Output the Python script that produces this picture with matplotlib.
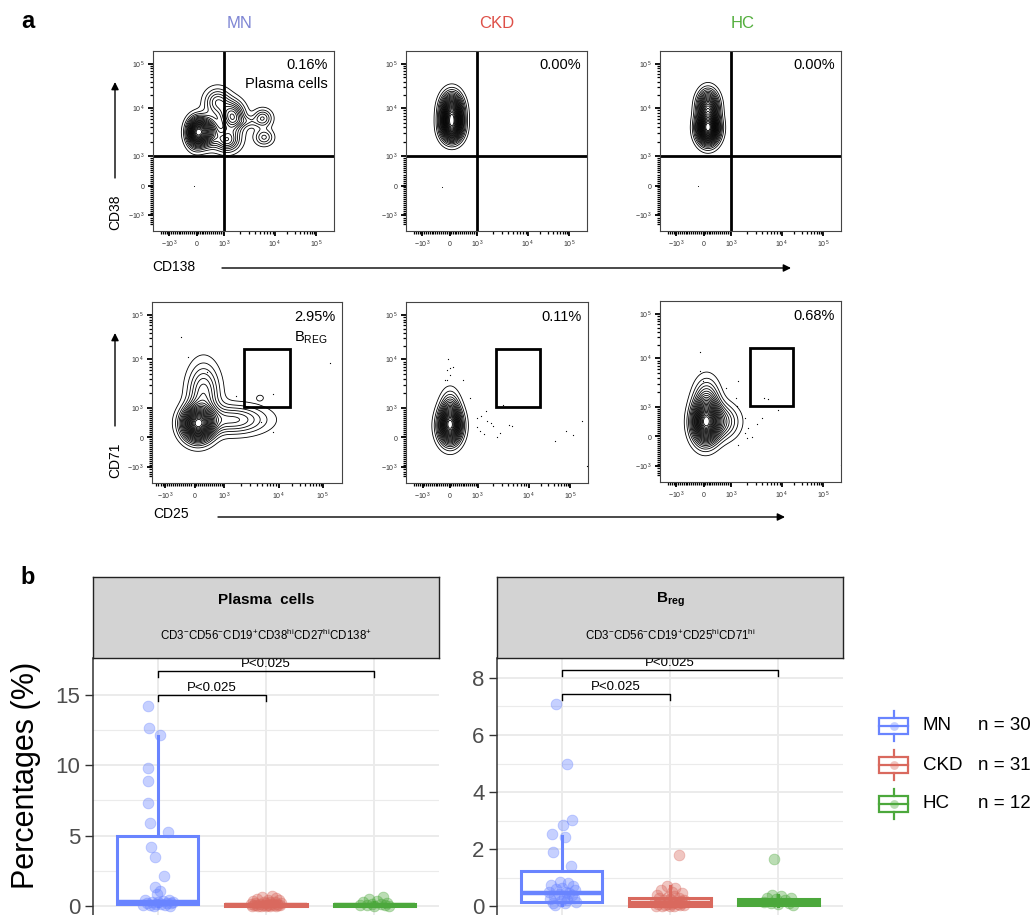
import numpy as np
import matplotlib
matplotlib.use('Agg')
import matplotlib.pyplot as plt
from matplotlib.patches import Rectangle

plt.rcParams['font.family'] = ['Liberation Sans', 'DejaVu Sans']
plt.rcParams['mathtext.fontset'] = 'custom'
plt.rcParams['mathtext.rm'] = 'Liberation Sans'
plt.rcParams['mathtext.it'] = 'Liberation Sans:italic'
plt.rcParams['mathtext.bf'] = 'Liberation Sans:bold'

# ------------------------------------------------------------------ data
groups = ['MN', 'CKD', 'HC']
group_n = [30, 31, 12]
group_colors = ['#6984FF', '#D9695E', '#4CA83C']
title_colors = ['#7F86D4', '#DE5048', '#52AE3C']

# panel a (flow cytometry, display units of a biexponential scale)
flow_tick_labels = [r'$-10^{\,3}$', r'$0$', r'$10^{\,3}$', r'$10^{\,4}$', r'$10^{\,5}$']
flow_xtick_pos = [-1.0, 0.0, 1.0, 2.85, 4.35]
flow_ytick_pos = [-1.0, 0.0, 1.0, 2.65, 4.15]
row1_pct = ['0.16%', '0.00%', '0.00%']
row2_pct = ['2.95%', '0.11%', '0.68%']
row1_gate = [1.0, 1.0]                   # CD138 / CD38 quadrant at 10^3
row2_gate = [1.68, 1.02, 3.25, 3.0]      # CD25 x0, CD71 y0, x1, y1

# density components: (centre x, centre y, sd x, sd y, weight)
blobs_cd38 = [
    [(0.25, 1.85, 0.3, 0.3, 1.0), (-0.05, 1.8, 0.2, 0.3, 0.7),
     (0.75, 2.85, 0.3, 0.3, 0.35), (1.3, 2.35, 0.28, 0.33, 0.6),
     (1.1, 1.55, 0.3, 0.25, 0.45), (1.85, 2.2, 0.25, 0.12, 0.12),
     (2.4, 2.3, 0.22, 0.2, 0.3), (2.45, 1.65, 0.22, 0.18, 0.25)],
    [(0.07, 2.5, 0.25, 0.39, 1.0), (0.07, 1.95, 0.25, 0.3, 0.7)],
    [(0.15, 1.95, 0.25, 0.33, 1.0), (0.15, 2.7, 0.24, 0.35, 0.6)],
]
blobs_cd71 = [
    [(0.1, 0.45, 0.33, 0.36, 1.0), (0.3, 1.5, 0.35, 0.65, 0.3),
     (1.3, 0.6, 0.75, 0.32, 0.28), (2.22, 1.35, 0.1, 0.08, 0.06)],
    [(0.0, 0.38, 0.26, 0.38, 1.0), (0.0, 0.9, 0.22, 0.42, 0.3)],
    [(0.05, 0.45, 0.3, 0.44, 1.0), (0.1, 1.2, 0.3, 0.5, 0.3), (0.6, 0.5, 0.42, 0.38, 0.3)],
]
events_cd38_x = [[-0.1], [-0.3], [-0.2]]
events_cd38_y = [[0.0], [-0.05], [0.0]]
events_cd71_x = [
    [-0.45, -0.22, 0.41, 1.40, 2.67, 2.26, 2.65, 4.6],
    [-0.07, -0.10, 0.0, 0.11, 0.0, -0.1, -0.19, 0.45, 0.72, 0.96, 1.11, 1.30, 1.35, 1.50,
     1.56, 0.98, 1.08, 1.23, 1.69, 1.81, 2.14, 2.23, 3.80, 4.22, 4.46, 4.80, 1.90, 4.95],
    [-0.14, -0.14, -0.02, 0.81, 1.26, 1.17, 1.20, 1.50, 1.62, 1.50, 1.75, 1.56, 1.26,
     1.93, 2.11, 2.20, 2.35, 2.70, 5.0],
]
events_cd71_y = [
    [3.40, 2.74, 2.22, 1.42, 1.47, 0.53, 0.19, 2.54],
    [2.68, 2.30, 2.37, 2.39, 2.11, 1.94, 1.96, 1.94, 1.35, 0.66, 0.71, 0.91, 0.55, 0.48,
     0.40, 0.34, 0.23, 0.12, 0.0, 0.14, 0.43, 0.38, -0.11, 0.23, 0.09, 0.57, 1.11, -0.96],
    [2.86, 2.23, 1.89, 1.64, 1.89, 1.30, 1.02, 0.62, 0.28, 0.10, -0.01, -0.07, -0.29,
     0.41, 0.64, 1.32, 1.28, 0.90, -0.98],
]

# panel b (percentages)
pc_vals = [
    [14.25, 12.65, 12.15, 9.8, 8.9, 7.35, 5.9, 5.25, 4.2, 3.5, 2.1, 1.35, 1.05, 0.85, 0.45,
     0.40, 0.35, 0.30, 0.28, 0.25, 0.22, 0.20, 0.18, 0.15, 0.12, 0.10, 0.08, 0.05, 0.03, 0.02],
    [0.72, 0.65, 0.60, 0.50, 0.45, 0.40, 0.35, 0.30, 0.28, 0.25, 0.22, 0.20, 0.18, 0.16, 0.15,
     0.13, 0.12, 0.10, 0.09, 0.08, 0.07, 0.06, 0.05, 0.05, 0.04, 0.03, 0.03, 0.02, 0.02, 0.01, 0.01],
    [0.65, 0.50, 0.35, 0.25, 0.20, 0.15, 0.12, 0.10, 0.08, 0.05, 0.03, 0.02],
]
pc_jitter = [
    [-0.09, -0.08, 0.02, -0.09, -0.09, -0.09, -0.07, 0.09, -0.06, -0.03, 0.06, -0.03, 0.02, -0.01,
     0.10, -0.12, 0.05, -0.05, 0.14, 0.00, -0.10, 0.08, 0.12, -0.02, 0.03, -0.14, 0.07, -0.07, 0.11, -0.04],
    [0.06, -0.04, 0.09, -0.08, 0.02, 0.12, -0.12, 0.04, -0.02, 0.08, -0.1, 0.0, 0.14, -0.06, 0.1,
     -0.14, 0.05, -0.09, 0.03, 0.11, -0.03, 0.07, -0.11, 0.01, 0.13, -0.05, 0.09, -0.13, 0.04, -0.07, 0.0],
    [0.08, -0.05, 0.03, -0.1, 0.12, -0.02, 0.06, -0.13, 0.1, -0.07, 0.0, 0.14],
]
pc_q1 = [0.15, 0.02, 0.03]
pc_med = [0.30, 0.06, 0.08]
pc_q3 = [5.0, 0.15, 0.15]
pc_lo = [0.02, 0.0, 0.0]
pc_hi = [12.1, 0.35, 0.3]

br_vals = [
    [7.08, 5.0, 3.02, 2.85, 2.52, 2.41, 1.88, 1.40, 0.85, 0.80, 0.75, 0.70, 0.65, 0.60, 0.55,
     0.50, 0.48, 0.45, 0.42, 0.40, 0.35, 0.30, 0.28, 0.25, 0.20, 0.18, 0.15, 0.12, 0.10, 0.05],
    [1.78, 0.72, 0.65, 0.55, 0.50, 0.45, 0.40, 0.35, 0.32, 0.30, 0.28, 0.25, 0.22, 0.20, 0.18,
     0.16, 0.15, 0.13, 0.12, 0.10, 0.09, 0.08, 0.07, 0.06, 0.05, 0.04, 0.03, 0.02, 0.02, 0.01, 0.00],
    [1.66, 0.40, 0.35, 0.30, 0.28, 0.25, 0.20, 0.15, 0.12, 0.10, 0.06, 0.03],
]
br_jitter = [
    [-0.055, 0.05, 0.09, 0.01, -0.09, 0.025, -0.08, 0.08, -0.02, 0.06, -0.1, 0.1, 0.0, -0.05, 0.12,
     0.04, -0.12, 0.07, -0.03, 0.09, -0.07, 0.02, 0.11, -0.11, 0.05, -0.01, 0.13, -0.08, 0.03, -0.06],
    [0.08, -0.03, 0.05, -0.08, 0.02, 0.11, -0.12, 0.04, -0.02, 0.08, -0.1, 0.0, 0.13, -0.06, 0.1,
     -0.14, 0.05, -0.09, 0.03, 0.11, -0.03, 0.07, -0.11, 0.01, 0.13, -0.05, 0.09, -0.13, 0.04, -0.07, 0.0],
    [-0.04, -0.06, 0.03, -0.1, 0.12, -0.02, 0.06, -0.13, 0.1, -0.07, 0.0, 0.14],
]
br_q1 = [0.15, 0.02, 0.03]
br_med = [0.47, 0.12, 0.12]
br_q3 = [1.23, 0.28, 0.25]
br_lo = [0.05, 0.0, 0.0]
br_hi = [2.45, 0.7, 0.4]

pc_ticks = [0, 5, 10, 15]
br_ticks = [0, 2, 4, 6, 8]
pval_text = 'P<0.025'
pc_brackets = [(1, 3, 16.7), (1, 2, 15.0)]
br_brackets = [(1, 3, 8.28), (1, 2, 7.44)]

# ------------------------------------------------------------------ figure
W, H = 1031, 915
fig = plt.figure(figsize=(W / 100, H / 100), dpi=100)


def px_axes(l, t, r, b, **kw):
    return fig.add_axes([l / W, 1 - b / H, (r - l) / W, (b - t) / H], **kw)


def minor_positions(tpos):
    out = list(np.arange(-1.3, 1.0, 0.07))
    for k in range(2, 10):
        out.append(tpos[2] + np.log10(k) * (tpos[3] - tpos[2]))
        out.append(tpos[3] + np.log10(k) * (tpos[4] - tpos[3]))
    return out


def flow_axes(box, xlim, ylim):
    ax = px_axes(*box)
    ax.set_xlim(*xlim)
    ax.set_ylim(*ylim)
    ax.set_xticks(flow_xtick_pos)
    ax.set_xticklabels(flow_tick_labels)
    ax.set_yticks(flow_ytick_pos)
    ax.set_yticklabels(flow_tick_labels)
    ax.set_xticks(minor_positions(flow_xtick_pos), minor=True)
    ax.set_yticks(minor_positions(flow_ytick_pos), minor=True)
    ax.tick_params(which='major', length=3.5, width=1.3, labelsize=5, pad=2,
                   colors='black', labelcolor='#333333')
    ax.tick_params(which='minor', length=2, width=0.9, colors='black')
    for s in ax.spines.values():
        s.set_linewidth(0.8)
        s.set_color('#444444')
    return ax


def draw_density(ax, blobs, nlev):
    xl = ax.get_xlim()
    yl = ax.get_ylim()
    X, Y = np.meshgrid(np.linspace(xl[0], xl[1], 450), np.linspace(yl[0], yl[1], 450))
    Z = np.zeros_like(X)
    for cx, cy, sx, sy, w in blobs:
        Z += w * np.exp(-0.5 * (((X - cx) / sx) ** 2 + ((Y - cy) / sy) ** 2))
    lev = Z.max() * np.linspace(0.035, 0.95, nlev)
    ax.contour(X, Y, Z, levels=lev, colors='black', linewidths=0.6)


row1_boxes = [(153, 51, 334, 231), (406, 51, 587, 231), (660, 51, 841, 231)]
row2_boxes = [(152, 302, 342, 483), (406, 302, 588, 483), (660, 301, 841, 482)]
row1_xlims = [(-1.6, 5.0), (-1.6, 5.0), (-1.6, 5.0)]
row2_xlims = [(-1.45, 5.0), (-1.6, 5.0), (-1.6, 5.0)]
ylim_flow = (-1.55, 4.6)
row1_nlev = [22, 26, 26]
row2_nlev = [24, 22, 24]

for i in range(3):
    ax = flow_axes(row1_boxes[i], row1_xlims[i], ylim_flow)
    draw_density(ax, blobs_cd38[i], row1_nlev[i])
    ax.scatter(events_cd38_x[i], events_cd38_y[i], s=0.6, color='black', lw=0)
    ax.axvline(row1_gate[0], color='black', lw=2)
    ax.axhline(row1_gate[1], color='black', lw=2)
    ax.text(0.965, 0.96, row1_pct[i], transform=ax.transAxes, ha='right', va='top', fontsize=10.5)
    if i == 0:
        ax.text(0.965, 0.855, 'Plasma cells', transform=ax.transAxes, ha='right', va='top', fontsize=10.5)

for i in range(3):
    ax = flow_axes(row2_boxes[i], row2_xlims[i], ylim_flow)
    draw_density(ax, blobs_cd71[i], row2_nlev[i])
    ax.scatter(events_cd71_x[i], events_cd71_y[i], s=0.8, color='black', lw=0)
    x0, y0, x1, y1 = row2_gate
    ax.add_patch(Rectangle((x0, y0), x1 - x0, y1 - y0, fill=False, lw=2, ec='black'))
    ax.text(0.965, 0.955, row2_pct[i], transform=ax.transAxes, ha='right', va='top', fontsize=10.5)
    if i == 0:
        ax.text(0.925, 0.85, r'B$_{\mathregular{REG}}$', transform=ax.transAxes, ha='right',
                va='top', fontsize=10.5)

# ------------------------------------------------------------------ panel b
def box_panel(box, vals, jit, q1, med, q3, lo, hi, ylim, ticks, minors, brackets, br_dy):
    ax = px_axes(*box)
    ax.set_xlim(0.4, 3.6)
    ax.set_ylim(*ylim)
    ax.set_yticks(ticks)
    ax.set_yticklabels([str(t) for t in ticks])
    ax.set_yticks(minors, minor=True)
    ax.set_xticks([1, 2, 3])
    ax.tick_params(axis='x', length=0, labelbottom=False)
    ax.tick_params(axis='y', which='major', length=6, width=1, color='#333333',
                   labelsize=16, labelcolor='#4D4D4D', pad=3)
    ax.tick_params(axis='y', which='minor', length=0)
    ax.grid(True, which='major', color='#EBEBEB', lw=1.4, zorder=0)
    ax.grid(True, which='minor', axis='y', color='#EBEBEB', lw=0.8, zorder=0)
    ax.set_axisbelow(True)
    for s in ['top', 'right', 'bottom']:
        ax.spines[s].set_visible(False)
    ax.spines['left'].set_color('#333333')
    ax.spines['left'].set_linewidth(1.1)
    for i in range(3):
        c = group_colors[i]
        st = dict(med=med[i], q1=q1[i], q3=q3[i], whislo=lo[i], whishi=hi[i], fliers=[])
        ax.bxp([st], positions=[i + 1], widths=0.75, showcaps=False, showfliers=False,
               patch_artist=True,
               boxprops=dict(facecolor='white', edgecolor=c, linewidth=2.2),
               whiskerprops=dict(color=c, linewidth=2.2),
               medianprops=dict(color=c, linewidth=3.2), zorder=2)
        ax.scatter(np.array(jit[i]) + i + 1, vals[i], s=60, color=c, alpha=0.38,
                   edgecolors=c, linewidths=0.6, zorder=3)
    for a, b, y in brackets:
        ax.plot([a, a, b, b], [y - br_dy, y, y, y - br_dy], color='black', lw=1.0, zorder=4)
        ax.text((a + b) / 2, y + br_dy * 0.15, pval_text, ha='center', va='bottom',
                fontsize=9.5, clip_on=True, zorder=4)
    return ax


ax_pc = box_panel((93, 658, 439, 960), pc_vals, pc_jitter, pc_q1, pc_med, pc_q3, pc_lo, pc_hi,
                  (-3.84, 17.63), pc_ticks, [2.5, 7.5, 12.5], pc_brackets, 0.42)
ax_br = box_panel((497, 658, 843, 960), br_vals, br_jitter, br_q1, br_med, br_q3, br_lo, br_hi,
                  (-1.89, 8.70), br_ticks, [1, 3, 5, 7], br_brackets, 0.21)

HI = r'^{\mathregular{hi}}'
strip_titles = [(r'Plasma  cells',
                 r'CD3$^{-}$CD56$^{-}$CD19$^{+}$CD38$' + HI + r'$CD27$' + HI + r'$CD138$^{+}$'),
                (r'$\mathbf{B_{reg}}$',
                 r'CD3$^{-}$CD56$^{-}$CD19$^{+}$CD25$' + HI + r'$CD71$' + HI + r'$')]
for (l, r), (t1, t2) in zip([(93, 439), (497, 843)], strip_titles):
    sa = px_axes(l, 577, r, 658)
    sa.set_facecolor('#D3D3D3')
    sa.set_xticks([])
    sa.set_yticks([])
    for s in sa.spines.values():
        s.set_color('#222222')
        s.set_linewidth(1.0)
    sa.text(0.5, 0.72, t1, transform=sa.transAxes, ha='center', va='center',
            fontsize=11, fontweight='bold')
    sa.text(0.5, 0.28, t2, transform=sa.transAxes, ha='center', va='center', fontsize=8.3)

# ------------------------------------------------------------------ overlay (labels, arrows, legend)
ov = px_axes(0, 0, W, H, zorder=10)
ov.set_xlim(0, W)
ov.set_ylim(H, 0)
ov.axis('off')
ov.patch.set_alpha(0)

ov.text(28, 22, 'a', fontsize=17, fontweight='bold', ha='center', va='center')
ov.text(28, 578, 'b', fontsize=17, fontweight='bold', ha='center', va='center')
for x, g, c in zip([240, 497, 743], groups, title_colors):
    ov.text(x, 23, g, color=c, fontsize=12, ha='center', va='center')

arrow = dict(arrowstyle='-|>', color='black', lw=1.0, mutation_scale=11, shrinkA=0, shrinkB=0)
ov.text(115, 212, 'CD38', rotation=90, fontsize=10, ha='center', va='center')
ov.annotate('', xy=(115, 82), xytext=(115, 178), arrowprops=arrow)
ov.text(152, 267, 'CD138', fontsize=10, ha='left', va='center')
ov.annotate('', xy=(791, 268), xytext=(222, 268), arrowprops=arrow)
ov.text(115, 460, 'CD71', rotation=90, fontsize=10, ha='center', va='center')
ov.annotate('', xy=(115, 333), xytext=(115, 426), arrowprops=arrow)
ov.text(153, 514, 'CD25', fontsize=10, ha='left', va='center')
ov.annotate('', xy=(785, 517), xytext=(218, 517), arrowprops=arrow)

ov.text(26, 775, 'Percentages (%)', rotation=90, fontsize=22, ha='center', va='center')

for k, (g, n, c) in enumerate(zip(groups, group_n, group_colors)):
    yc = 726 + 39 * k
    ov.add_patch(Rectangle((879, yc - 8), 29, 16, fill=False, ec=c, lw=1.6))
    ov.plot([893.5, 893.5], [yc - 15, yc - 8], color=c, lw=1.6)
    ov.plot([893.5, 893.5], [yc + 8, yc + 15], color=c, lw=1.6)
    ov.plot([879, 908], [yc, yc], color=c, lw=1.6)
    ov.scatter([893.5], [yc], s=40, color=c, alpha=0.38, lw=0)
    ov.text(923, yc, g, fontsize=13.5, ha='left', va='center')
    ov.text(1031, yc, f'n = {n}', fontsize=13.5, ha='right', va='center')

fig.savefig('out.png', dpi=100)
